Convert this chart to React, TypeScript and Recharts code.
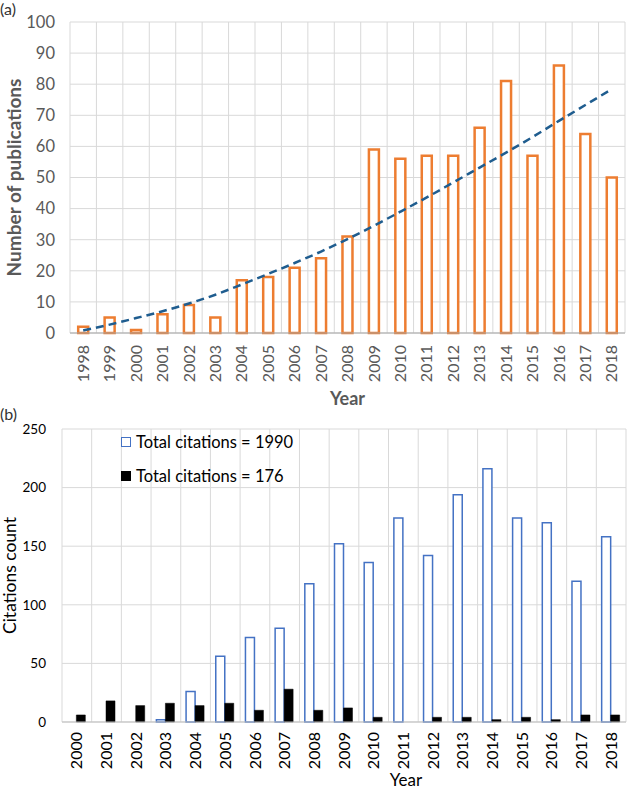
import React from "react";
import {
  ComposedChart,
  BarChart,
  Bar,
  Line,
  XAxis,
  YAxis,
  CartesianGrid,
} from "recharts";

const FONT = "Lato, 'Open Sans', sans-serif";

// panel (a)
const pubYears = ["1998", "1999", "2000", "2001", "2002", "2003", "2004", "2005", "2006", "2007", "2008", "2009", "2010", "2011", "2012", "2013", "2014", "2015", "2016", "2017", "2018"];
const publications = [2, 5, 1, 6, 9, 5, 17, 18, 21, 24, 31, 59, 56, 57, 57, 66, 81, 57, 86, 64, 50];
const pubTrend = [0.8, 2.7, 4.8, 7.0, 9.5, 12.3, 15.6, 19.0, 22.5, 26.2, 30.2, 34.5, 39.0, 43.6, 48.4, 53.2, 58.0, 63.0, 68.2, 73.3, 78.4];
const pubTicks = [0, 10, 20, 30, 40, 50, 60, 70, 80, 90, 100];

// panel (b)
const citeYears = ["2000", "2001", "2002", "2003", "2004", "2005", "2006", "2007", "2008", "2009", "2010", "2011", "2012", "2013", "2014", "2015", "2016", "2017", "2018"];
const citationsAll = [0, 0, 0, 2, 26, 56, 72, 80, 118, 152, 136, 174, 142, 194, 216, 174, 170, 120, 158];
const citationsSub = [6, 18, 14, 16, 14, 16, 10, 28, 10, 12, 4, 0, 4, 4, 2, 4, 2, 6, 6];
const citeTicks = [0, 50, 100, 150, 200, 250];
const legendLabels = ["Total citations = 1990", "Total citations = 176"];
const legendColors = ["#4472C4", "#000"];
const legendFills = ["#fff", "#000"];

const pubData = pubYears.map((year, i) => ({ year, pubs: publications[i], trend: pubTrend[i] }));
const citeData = citeYears.map((year, i) => ({ year, all: citationsAll[i], sub: citationsSub[i] }));

// grid lines between categories (Excel style), not through tick centres
const boundaries = (n: number) => ({ offset }: any) =>
  Array.from({ length: n + 1 }, (_, i) => offset.left + (i * offset.width) / n);

const YearTick = ({ x, y, payload, gap, fontSize, fill }: any) => {
  const ty = y + gap;
  return (
    <text
      x={x}
      y={ty}
      transform={`rotate(-90 ${x} ${ty})`}
      textAnchor="end"
      dy="0.35em"
      fontSize={fontSize}
      fill={fill}
      fontFamily={FONT}
    >
      {payload.value}
    </text>
  );
};

const CiteLegend = () => (
  <div style={{ position: "absolute", left: 121, top: 425, fontFamily: FONT, fontSize: 16.5, color: "#000" }}>
    {legendLabels.map((label, i) => (
      <div key={label} style={{ display: "flex", alignItems: "center", height: 34 }}>
        <span
          style={{
            width: 8,
            height: 8,
            marginRight: 5,
            border: `1.5px solid ${legendColors[i]}`,
            background: legendFills[i],
          }}
        />
        {label}
      </div>
    ))}
  </div>
);

export default function App() {
  return (
    <div style={{ position: "absolute", left: 0, top: 0, width: 628, height: 789, background: "#fff" }}>
      <div style={{ position: "absolute", left: 0, top: -1, fontFamily: FONT, fontSize: 16, color: "#333" }}>(a)</div>
      <div style={{ position: "absolute", left: 0, top: 0 }}>
        <ComposedChart width={628} height={412} data={pubData} margin={{ top: 22, right: 3, bottom: 0, left: 0 }} barCategoryGap="31%">
          <CartesianGrid stroke="#D9D9D9" verticalCoordinatesGenerator={boundaries(pubYears.length)} />
          <XAxis
            dataKey="year"
            height={79}
            tickLine={false}
            tickSize={0}
            tickMargin={0}
            axisLine={{ stroke: "#A6A6A6" }}
            interval={0}
            tick={(p: any) => <YearTick {...p} gap={12} fontSize={16} fill="#595959" />}
            label={{
              content: ({ viewBox }: any) => (
                <text x={viewBox.x + viewBox.width / 2} y={viewBox.y + 72} textAnchor="middle" fontFamily={FONT} fontSize={18} fontWeight="bold" fill="#595959">
                  Year
                </text>
              ),
            }}
          />
          <YAxis
            width={70}
            domain={[0, 100]}
            ticks={pubTicks}
            tickLine={false}
            tickSize={0}
            tickMargin={15}
            axisLine={false}
            tick={{ fontSize: 16.5, fill: "#595959", fontFamily: FONT }}
            label={{
              content: ({ viewBox }: any) => {
                const cx = viewBox.x + 14;
                const cy = viewBox.y + viewBox.height / 2;
                return (
                  <text x={cx} y={cy} transform={`rotate(-90 ${cx} ${cy})`} textAnchor="middle" dy="0.35em" fontFamily={FONT} fontSize={19} fontWeight="bold" fill="#595959">
                    Number of publications
                  </text>
                );
              },
            }}
          />
          <Bar dataKey="pubs" fill="#fff" stroke="#ED7D31" strokeWidth={2.5} isAnimationActive={false} />
          <Line dataKey="trend" type="monotone" stroke="#1F5D8F" strokeWidth={2.5} strokeDasharray="8 5" dot={false} activeDot={false} isAnimationActive={false} />
        </ComposedChart>
      </div>

      <div style={{ position: "absolute", left: 0, top: 404, fontFamily: FONT, fontSize: 16, color: "#333" }}>(b)</div>
      <div style={{ position: "absolute", left: 0, top: 400 }}>
        <BarChart width={628} height={389} data={citeData} margin={{ top: 29, right: 2, bottom: 0, left: 0 }} barCategoryGap="18%" barGap={0}>
          <CartesianGrid stroke="#D9D9D9" verticalCoordinatesGenerator={boundaries(citeYears.length)} />
          <XAxis
            dataKey="year"
            height={67}
            tickLine={false}
            tickSize={0}
            tickMargin={0}
            axisLine={{ stroke: "#BFBFBF" }}
            interval={0}
            tick={(p: any) => <YearTick {...p} gap={10} fontSize={16} fill="#000" />}
            label={{
              content: ({ viewBox }: any) => (
                <text x={viewBox.x + viewBox.width / 2 + 62} y={viewBox.y + 64} textAnchor="middle" fontFamily={FONT} fontSize={17} fill="#000">
                  Year
                </text>
              ),
            }}
          />
          <YAxis
            width={62}
            domain={[0, 250]}
            ticks={citeTicks}
            tickLine={false}
            tickSize={0}
            tickMargin={16}
            axisLine={false}
            tick={{ fontSize: 13.5, fill: "#000", fontFamily: FONT }}
            label={{
              content: ({ viewBox }: any) => {
                const cx = viewBox.x + 10;
                const cy = viewBox.y + viewBox.height / 2;
                return (
                  <text x={cx} y={cy} transform={`rotate(-90 ${cx} ${cy})`} textAnchor="middle" dy="0.35em" fontFamily={FONT} fontSize={17.5} fill="#000">
                    Citations count
                  </text>
                );
              },
            }}
          />
          <Bar dataKey="all" name={legendLabels[0]} fill="#fff" stroke="#4472C4" strokeWidth={1.5} isAnimationActive={false} />
          <Bar dataKey="sub" name={legendLabels[1]} fill="#000" stroke="#000" strokeWidth={0.5} isAnimationActive={false} />
        </BarChart>
      </div>
      <CiteLegend />
    </div>
  );
}
